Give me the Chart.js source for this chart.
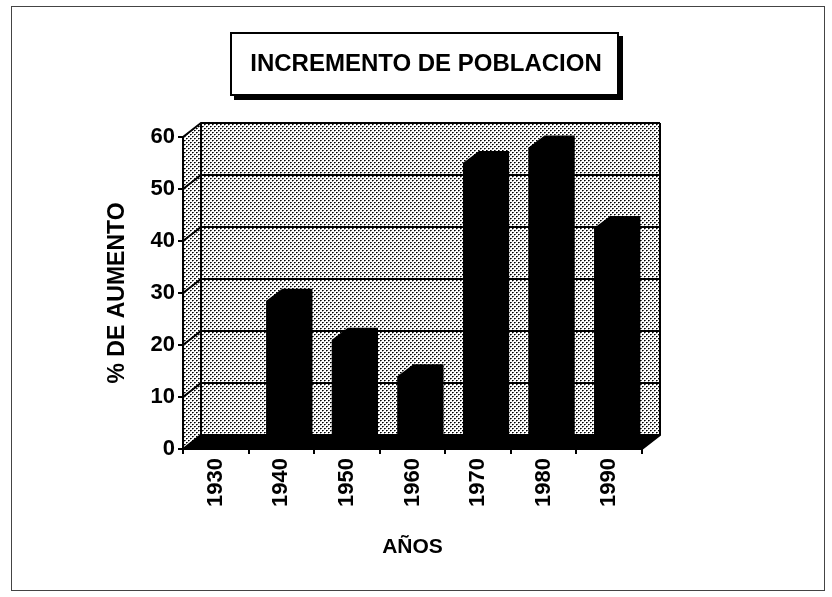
<!DOCTYPE html>
<html>
<head>
<meta charset="utf-8">
<script src="https://cdn.jsdelivr.net/npm/chart.js@4.4.1/dist/chart.umd.min.js"></script>
<style>
  html, body { margin: 0; padding: 0; background: #fff; }
  canvas { display: block; }
</style>
</head>
<body>
<canvas id="chart" width="832" height="597"></canvas>
<script>
// data
const years = ['1930', '1940', '1950', '1960', '1970', '1980', '1990'];
const aumento = [0, 28.5, 21, 14, 55, 58, 42.5];
const yMin = 0;
const yMax = 60;
const yStep = 10;

const chartTitle = 'INCREMENTO DE POBLACION';
const yTitle = '% DE AUMENTO';
const xTitle = 'AÑOS';

const FONT = "'Liberation Sans', Arial, Helvetica, sans-serif";

// depth of the 3D box (back wall offset) and of the columns
const WALL_DX = 18, WALL_DY = -14;
const BAR_DX = 16, BAR_DY = -12;

// dotted grey fill like the old printed chart
function makeStipple() {
  const c = document.createElement('canvas');
  c.width = 4; c.height = 4;
  const g = c.getContext('2d');
  g.fillStyle = '#fff';
  g.fillRect(0, 0, 4, 4);
  g.fillStyle = '#000';
  g.fillRect(0, 0, 1, 1);
  g.fillRect(2, 2, 1, 1);
  g.fillStyle = '#555';
  g.fillRect(1, 0, 1, 1);
  g.fillRect(3, 2, 1, 1);
  g.fillStyle = '#aaa';
  g.fillRect(0, 1, 1, 1);
  g.fillRect(2, 3, 1, 1);
  return c;
}

const wall3d = {
  id: 'wall3d',
  beforeDraw(chart) {
    const { ctx, chartArea: a, scales: { y } } = chart;
    const pattern = ctx.createPattern(makeStipple(), 'repeat');
    ctx.save();

    // outer frame
    ctx.strokeStyle = '#444';
    ctx.lineWidth = 1;
    ctx.strokeRect(11.5, 6.5, 813, 584);

    // title box with drop shadow
    ctx.fillStyle = '#000';
    ctx.fillRect(234, 36, 389, 64);
    ctx.fillStyle = '#fff';
    ctx.fillRect(230, 32, 389, 64);
    ctx.strokeStyle = '#000';
    ctx.lineWidth = 2;
    ctx.strokeRect(231, 33, 387, 62);
    ctx.fillStyle = '#000';
    ctx.font = 'bold 24px ' + FONT;
    ctx.textAlign = 'center';
    ctx.textBaseline = 'middle';
    ctx.fillText(chartTitle, 426, 64);

    // back wall
    const bl = a.left + WALL_DX, br = a.right + WALL_DX;
    const bt = a.top + WALL_DY, bb = a.bottom + WALL_DY;
    ctx.fillStyle = pattern;
    ctx.fillRect(bl, bt, br - bl, bb - bt);

    // left wall
    ctx.beginPath();
    ctx.moveTo(a.left, a.top);
    ctx.lineTo(bl, bt);
    ctx.lineTo(bl, bb);
    ctx.lineTo(a.left, a.bottom);
    ctx.closePath();
    ctx.fill();

    // floor
    ctx.fillStyle = '#000';
    ctx.beginPath();
    ctx.moveTo(a.left, a.bottom);
    ctx.lineTo(bl, bb);
    ctx.lineTo(br, bb);
    ctx.lineTo(a.right, a.bottom);
    ctx.closePath();
    ctx.fill();

    // gridlines on back and left walls
    ctx.strokeStyle = '#000';
    ctx.lineWidth = 2;
    for (let v = yMin; v <= yMax; v += yStep) {
      const py = y.getPixelForValue(v);
      ctx.beginPath();
      ctx.moveTo(a.left, py);
      ctx.lineTo(bl, py + WALL_DY);
      ctx.lineTo(br, py + WALL_DY);
      ctx.stroke();
    }
    // wall edges
    ctx.beginPath();
    ctx.moveTo(bl, bb);
    ctx.lineTo(bl, bt);
    ctx.moveTo(br, bt);
    ctx.lineTo(br, bb);
    ctx.lineTo(a.right, a.bottom);
    ctx.stroke();
    ctx.restore();
  },
  beforeDatasetsDraw(chart) {
    const { ctx } = chart;
    const meta = chart.getDatasetMeta(0);
    ctx.save();
    ctx.fillStyle = '#000';
    meta.data.forEach(bar => {
      const { x, y, base, width } = bar.getProps(['x', 'y', 'base', 'width'], true);
      if (Math.abs(base - y) < 0.5) return;
      const l = x - width / 2, r = x + width / 2;
      ctx.beginPath();
      ctx.moveTo(l, y);
      ctx.lineTo(l + BAR_DX, y + BAR_DY);
      ctx.lineTo(r + BAR_DX, y + BAR_DY);
      ctx.lineTo(r + BAR_DX, base + BAR_DY);
      ctx.lineTo(r, base);
      ctx.lineTo(l, base);
      ctx.closePath();
      ctx.fill();
    });
    ctx.restore();
  }
};

Chart.defaults.font.family = FONT;
Chart.defaults.color = '#000';

new Chart(document.getElementById('chart'), {
  type: 'bar',
  data: {
    labels: years,
    datasets: [{
      data: aumento,
      backgroundColor: '#000',
      borderWidth: 0,
      barPercentage: 0.46,
      categoryPercentage: 1
    }]
  },
  options: {
    responsive: false,
    animation: false,
    devicePixelRatio: 1,
    layout: { padding: { left: 104, right: 190, top: 137, bottom: 37 } },
    plugins: {
      legend: { display: false },
      title: { display: false },
      tooltip: { enabled: false }
    },
    scales: {
      x: {
        afterFit: s => { s.height = 111; },
        border: { display: true, color: '#000', width: 2 },
        grid: { drawOnChartArea: false, drawTicks: true, tickLength: 5, color: '#000', lineWidth: 2, offset: true },
        ticks: {
          minRotation: 90,
          maxRotation: 90,
          padding: 4,
          font: { size: 22, weight: 'bold' }
        },
        title: {
          display: true,
          text: xTitle,
          padding: 0,
          font: { size: 21, weight: 'bold' }
        }
      },
      y: {
        min: yMin,
        max: yMax,
        afterFit: s => { s.width = 79; },
        border: { display: true, color: '#000', width: 2 },
        grid: { drawOnChartArea: false, drawTicks: true, tickLength: 5, color: '#000', lineWidth: 2 },
        ticks: {
          stepSize: yStep,
          padding: 3,
          font: { size: 22, weight: 'bold' }
        },
        title: {
          display: true,
          text: yTitle,
          padding: 0,
          font: { size: 23, weight: 'bold' }
        }
      }
    }
  },
  plugins: [wall3d]
});
</script>
</body>
</html>
